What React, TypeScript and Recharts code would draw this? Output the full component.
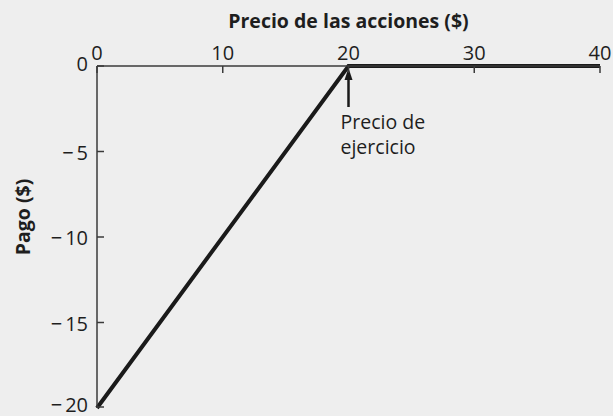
import React from 'react';
import { LineChart, Line, XAxis, YAxis, ReferenceDot } from 'recharts';

const stockPrices = [0, 20, 40];
const payoffs = [-20, 0, 0];
const xTicks = [0, 10, 20, 30, 40];
const yTicks = [0, -5, -10, -15, -20];
const strikePrice = 20;
const strikeLabel = ['Precio de', 'ejercicio'];
const xTitle = 'Precio de las acciones ($)';
const yTitle = 'Pago ($)';

const data = stockPrices.map((p, i) => ({ precio: p, pago: payoffs[i] }));

const FONT = '"Open Sans", "Noto Sans", sans-serif';
const TEXT = '#1e1e1e';
const AXIS = '#3a3a3a';

const XTick = (props: any) => {
  const { x, y, payload } = props;
  return (
    <g>
      <line x1={x} y1={y} x2={x} y2={y + 7} stroke={AXIS} strokeWidth={1.5} />
      <text x={x} y={y - 6} textAnchor="middle" fontSize={20} fill={TEXT} fontFamily={FONT}>
        {payload.value}
      </text>
    </g>
  );
};

const YTick = (props: any) => {
  const { x, y, payload } = props;
  const v = payload.value as number;
  const dy = v === 0 ? -3 : v === -20 ? -3 : 0;
  return (
    <g>
      <line x1={x} y1={y} x2={x + 7} y2={y} stroke={AXIS} strokeWidth={1.5} />
      <text
        x={x - 9}
        y={y + dy}
        textAnchor="end"
        dominantBaseline="central"
        fontSize={20}
        fill={TEXT}
        fontFamily={FONT}
      >
        {v < 0 ? (
          <>
            <tspan>{'\u2212'}</tspan>
            <tspan dx={3}>{Math.abs(v)}</tspan>
          </>
        ) : (
          v
        )}
      </text>
    </g>
  );
};

const StrikeMarker = (props: any) => {
  const { cx, cy } = props;
  if (cx == null || cy == null) return null;
  return (
    <g>
      <line x1={cx} y1={cy + 8} x2={cx} y2={cy + 41} stroke="#1a1a1a" strokeWidth={2.5} />
      <polygon points={`${cx},${cy + 2} ${cx - 4},${cy + 14} ${cx + 4},${cy + 14}`} fill="#1a1a1a" />
      {strikeLabel.map((t, i) => (
        <text
          key={t}
          x={cx - 8}
          y={cy + 63 + i * 25}
          textAnchor="start"
          fontSize={19.5}
          fill={TEXT}
          fontFamily={FONT}
        >
          {t}
        </text>
      ))}
    </g>
  );
};

export default function App() {
  return (
    <div
      style={{
        position: 'absolute',
        left: 0,
        top: 0,
        width: 613,
        height: 416,
        background: '#eeeeee',
      }}
    >
      <LineChart
        width={613}
        height={416}
        data={data}
        margin={{ top: 26, right: 13, bottom: 8, left: 37 }}
      >
        <XAxis
          dataKey="precio"
          type="number"
          orientation="top"
          domain={[0, 40]}
          ticks={xTicks}
          height={40}
          tickSize={0}
          tickMargin={0}
          tick={<XTick />}
          tickLine={false}
          axisLine={{ stroke: AXIS, strokeWidth: 1.5 }}
          label={{
            content: (p: any) => {
              const vb = p.viewBox;
              return (
                <text
                  x={vb.x + vb.width / 2}
                  y={28}
                  textAnchor="middle"
                  fontSize={19.5}
                  fontWeight="bold"
                  fill={TEXT}
                  fontFamily={FONT}
                >
                  {xTitle}
                </text>
              );
            },
          }}
        />
        <YAxis
          dataKey="pago"
          type="number"
          domain={[-20, 0]}
          ticks={yTicks}
          width={60}
          tickSize={0}
          tickMargin={0}
          tick={<YTick />}
          tickLine={false}
          axisLine={{ stroke: AXIS, strokeWidth: 1.5 }}
          label={{
            content: (p: any) => {
              const vb = p.viewBox;
              const cx = 22;
              const cy = vb.y + vb.height / 2 - 20;
              return (
                <text
                  x={cx}
                  y={cy}
                  transform={`rotate(-90, ${cx}, ${cy})`}
                  textAnchor="middle"
                  dominantBaseline="central"
                  fontSize={19.5}
                  fontWeight="bold"
                  fill={TEXT}
                  fontFamily={FONT}
                >
                  {yTitle}
                </text>
              );
            },
          }}
        />
        <Line
          dataKey="pago"
          type="linear"
          stroke="#1a1a1a"
          strokeWidth={4}
          dot={false}
          isAnimationActive={false}
        />
        <ReferenceDot
          x={strikePrice}
          y={0}
          ifOverflow="visible"
          shape={<StrikeMarker />}
        />
      </LineChart>
    </div>
  );
}
